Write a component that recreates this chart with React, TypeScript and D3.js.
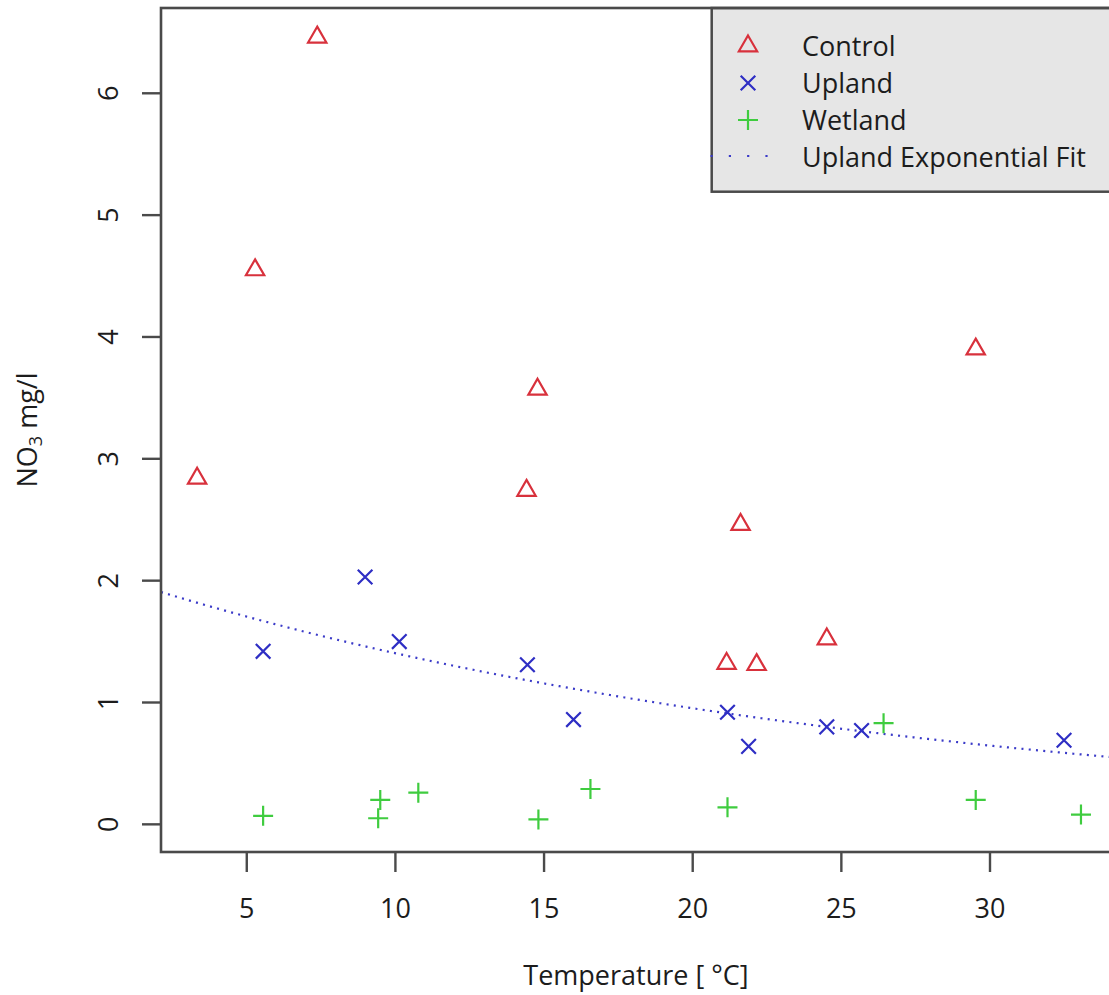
import React from "react";
import * as d3 from "d3";

// values
const controlTemp = [3.33, 5.28, 7.37, 14.41, 14.78, 21.61, 21.14, 22.15, 24.51, 29.52];
const controlNO3 = [2.84, 4.55, 6.46, 2.74, 3.57, 2.46, 1.32, 1.31, 1.52, 3.9];

const uplandTemp = [5.55, 8.98, 10.13, 14.44, 15.99, 21.17, 21.88, 24.51, 25.68, 32.49];
const uplandNO3 = [1.42, 2.03, 1.5, 1.31, 0.86, 0.92, 0.64, 0.8, 0.77, 0.69];

const wetlandTemp = [5.55, 9.42, 9.49, 10.77, 14.81, 16.56, 21.17, 26.42, 29.52, 33.06];
const wetlandNO3 = [0.07, 0.05, 0.2, 0.26, 0.04, 0.29, 0.14, 0.83, 0.2, 0.08];

// exponential fit of the upland series: y = a * exp(b * x)
const fitA = 2.07;
const fitB = -0.0388;

const xTicks = [5, 10, 15, 20, 25, 30];
const yTicks = [0, 1, 2, 3, 4, 5, 6];
const legendLabels = ["Control", "Upland", "Wetland", "Upland Exponential Fit"];

const W = 1109, H = 995;
const margin = { left: 161, top: 8, right: 1111, bottom: 852 };

const RED = "#d8313c";
const BLUE = "#2e2ec4";
const GREEN = "#3fcc3f";
const AXIS = "#4a4a4a";
const TEXT = "#1c1c1c";
const FONT = "'Open Sans', 'DejaVu Sans', sans-serif";

function triangle(cx: number, cy: number) {
  const s = 6.8;
  return `M${cx},${cy - 1.555 * s}L${cx + 1.347 * s},${cy + 0.778 * s}L${cx - 1.347 * s},${cy + 0.778 * s}Z`;
}
function cross(cx: number, cy: number) {
  const r = 7.3;
  return `M${cx - r},${cy - r}L${cx + r},${cy + r}M${cx - r},${cy + r}L${cx + r},${cy - r}`;
}
function plus(cx: number, cy: number) {
  const r = 10;
  return `M${cx - r},${cy}L${cx + r},${cy}M${cx},${cy - r}L${cx},${cy + r}`;
}

export default function App() {
  const x = d3.scaleLinear().domain([2.115, 34.07]).range([margin.left, margin.right]);
  const y = d3.scaleLinear().domain([-0.227, 6.7]).range([margin.bottom, margin.top]);

  const fitX = d3.range(x.domain()[0], x.domain()[1] + 0.1, 0.1);
  const fitLine = d3.line<number>()
    .x(d => x(d))
    .y(d => y(fitA * Math.exp(fitB * d)))(fitX) || "";

  const legendX = 711.7;
  const legendSymX = 748;
  const legendTextX = 802;
  const rowBase = [56, 93, 130, 167];

  return (
    <div style={{ position: "absolute", left: 0, top: 0 }}>
      <svg width={W} height={H} style={{ display: "block", background: "#fff" }} fontFamily={FONT}>
        <defs>
          <clipPath id="plotclip">
            <rect x={margin.left} y={margin.top} width={margin.right - margin.left} height={margin.bottom - margin.top} />
          </clipPath>
        </defs>

        {/* fit line */}
        <path d={fitLine} fill="none" stroke="#3a3ac8" strokeWidth={2.2}
          strokeDasharray="2 5.3" clipPath="url(#plotclip)" />

        {/* points */}
        {controlTemp.map((t, i) => (
          <path key={"c" + i} d={triangle(x(t), y(controlNO3[i]))} fill="none" stroke={RED} strokeWidth={2.2} />
        ))}
        {uplandTemp.map((t, i) => (
          <path key={"u" + i} d={cross(x(t), y(uplandNO3[i]))} fill="none" stroke={BLUE} strokeWidth={2.2} />
        ))}
        {wetlandTemp.map((t, i) => (
          <path key={"w" + i} d={plus(x(t), y(wetlandNO3[i]))} fill="none" stroke={GREEN} strokeWidth={2.2} />
        ))}

        {/* legend */}
        <rect x={legendX} y={margin.top} width={margin.right - legendX} height={191.7 - margin.top}
          fill="#e6e6e6" stroke={AXIS} strokeWidth={2.5} />
        <path d={triangle(legendSymX, rowBase[0] - 10)} fill="none" stroke={RED} strokeWidth={2.2} />
        <path d={cross(legendSymX, rowBase[1] - 10)} fill="none" stroke={BLUE} strokeWidth={2.2} />
        <path d={plus(legendSymX, rowBase[2] - 10)} fill="none" stroke={GREEN} strokeWidth={2.2} />
        <line x1={710.5} x2={770} y1={rowBase[3] - 11} y2={rowBase[3] - 11} stroke="#3a3ac8"
          strokeWidth={2.2} strokeDasharray="2.2 16.1" />
        {legendLabels.map((l, i) => (
          <text key={l} x={legendTextX} y={rowBase[i]} fontSize={27} fill={TEXT}>{l}</text>
        ))}

        {/* box */}
        <rect x={margin.left} y={margin.top} width={margin.right - margin.left} height={margin.bottom - margin.top}
          fill="none" stroke={AXIS} strokeWidth={2.6} />

        {/* x axis */}
        {xTicks.map(t => (
          <g key={"xt" + t}>
            <line x1={x(t)} x2={x(t)} y1={margin.bottom} y2={margin.bottom + 20} stroke={AXIS} strokeWidth={2.4} />
            <text x={x(t)} y={918} textAnchor="middle" fontSize={27} fill={TEXT}>{t}</text>
          </g>
        ))}
        <text x={(margin.left + margin.right) / 2} y={985} textAnchor="middle" fontSize={27} fill={TEXT}>
          Temperature [ °C]
        </text>

        {/* y axis */}
        {yTicks.map(t => (
          <g key={"yt" + t}>
            <line x1={margin.left - 19} x2={margin.left} y1={y(t)} y2={y(t)} stroke={AXIS} strokeWidth={2.4} />
            <text transform={`translate(118,${y(t)}) rotate(-90)`} textAnchor="middle" fontSize={27} fill={TEXT}>{t}</text>
          </g>
        ))}
        <text transform={`translate(37,${(margin.top + margin.bottom) / 2}) rotate(-90)`} textAnchor="middle"
          fontSize={27} fill={TEXT}>
          NO<tspan fontSize={18} dy={5}>3</tspan><tspan dy={-5}> mg/l</tspan>
        </text>
      </svg>
    </div>
  );
}
